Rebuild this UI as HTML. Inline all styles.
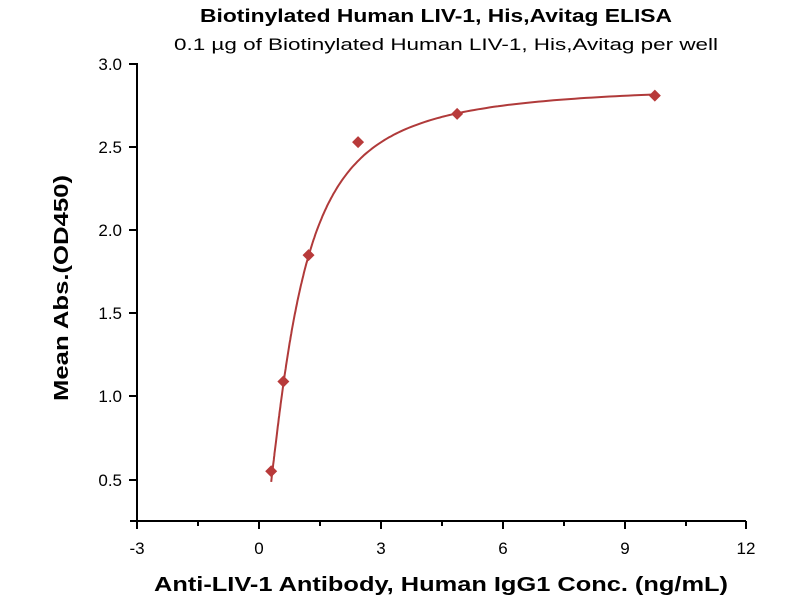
<!DOCTYPE html>
<html><head><meta charset="utf-8"><style>body{margin:0;background:#fff}svg{display:block}</style></head>
<body>
<svg id="s" width="800" height="600" xmlns="http://www.w3.org/2000/svg" font-family="Liberation Sans, sans-serif">
<text x="436" y="22" font-size="18" font-weight="bold" text-anchor="middle" textLength="472" lengthAdjust="spacingAndGlyphs">Biotinylated Human LIV-1, His,Avitag ELISA</text>
<text x="446" y="50" font-size="17" text-anchor="middle" textLength="544" lengthAdjust="spacingAndGlyphs">0.1 µg of Biotinylated Human LIV-1, His,Avitag per well</text>
<g stroke="#000" stroke-width="2" fill="none">
<line x1="137" y1="63" x2="137" y2="522"/>
<line x1="130" y1="521" x2="746" y2="521"/>
<line x1="129" y1="64" x2="137" y2="64"/>
<line x1="129" y1="147" x2="137" y2="147"/>
<line x1="129" y1="230" x2="137" y2="230"/>
<line x1="129" y1="313" x2="137" y2="313"/>
<line x1="129" y1="396" x2="137" y2="396"/>
<line x1="129" y1="480" x2="137" y2="480"/>
<line x1="137" y1="521" x2="137" y2="529"/>
<line x1="198" y1="521" x2="198" y2="526"/>
<line x1="259" y1="521" x2="259" y2="529"/>
<line x1="320" y1="521" x2="320" y2="526"/>
<line x1="381" y1="521" x2="381" y2="529"/>
<line x1="442" y1="521" x2="442" y2="526"/>
<line x1="503" y1="521" x2="503" y2="529"/>
<line x1="564" y1="521" x2="564" y2="526"/>
<line x1="625" y1="521" x2="625" y2="529"/>
<line x1="686" y1="521" x2="686" y2="526"/>
<line x1="746" y1="521" x2="746" y2="529"/>
</g>
<g font-size="17" text-anchor="end">
<text x="122" y="70">3.0</text><text x="122" y="153">2.5</text><text x="122" y="236">2.0</text>
<text x="122" y="319">1.5</text><text x="122" y="402">1.0</text><text x="122" y="486">0.5</text>
</g>
<g font-size="17" text-anchor="middle">
<text x="137" y="554">-3</text><text x="259" y="554">0</text><text x="381" y="554">3</text>
<text x="503" y="554">6</text><text x="625" y="554">9</text><text x="746" y="554">12</text>
</g>
<text x="441" y="591" font-size="20" font-weight="bold" text-anchor="middle" textLength="574" lengthAdjust="spacingAndGlyphs">Anti-LIV-1 Antibody, Human IgG1 Conc. (ng/mL)</text>
<text transform="translate(68,288) rotate(-90)" font-size="20" font-weight="bold" text-anchor="middle" textLength="226" lengthAdjust="spacingAndGlyphs">Mean Abs.(OD450)</text>
<path id="c" fill="none" stroke="#b03a3a" stroke-width="2"/>
<g id="pts" fill="#b83a3a"></g>
</svg>
<script>
var X=function(v){return 259+v*40.6},Y=function(v){return 64+(3-v)*166.2};
var d="";for(var i=0;i<=200;i++){var x=0.3*Math.pow(9.75/0.3,i/200);var p=Math.pow(x,1.55);var y=2.88*p/(p+Math.pow(0.84,1.55));d+=(i?"L":"M")+X(x).toFixed(1)+","+Y(y).toFixed(1);}
document.getElementById("c").setAttribute("d",d);
var P=[[0.3,0.55],[0.6,1.09],[1.22,1.85],[2.44,2.53],[4.88,2.7],[9.75,2.81]],g=document.getElementById("pts"),h="";
P.forEach(function(q){var x=X(q[0]),y=Y(q[1]);h+='<polygon points="'+x+','+(y-6)+' '+(x+6)+','+y+' '+x+','+(y+6)+' '+(x-6)+','+y+'"/>';});
g.innerHTML=h;
</script>
</body></html>
